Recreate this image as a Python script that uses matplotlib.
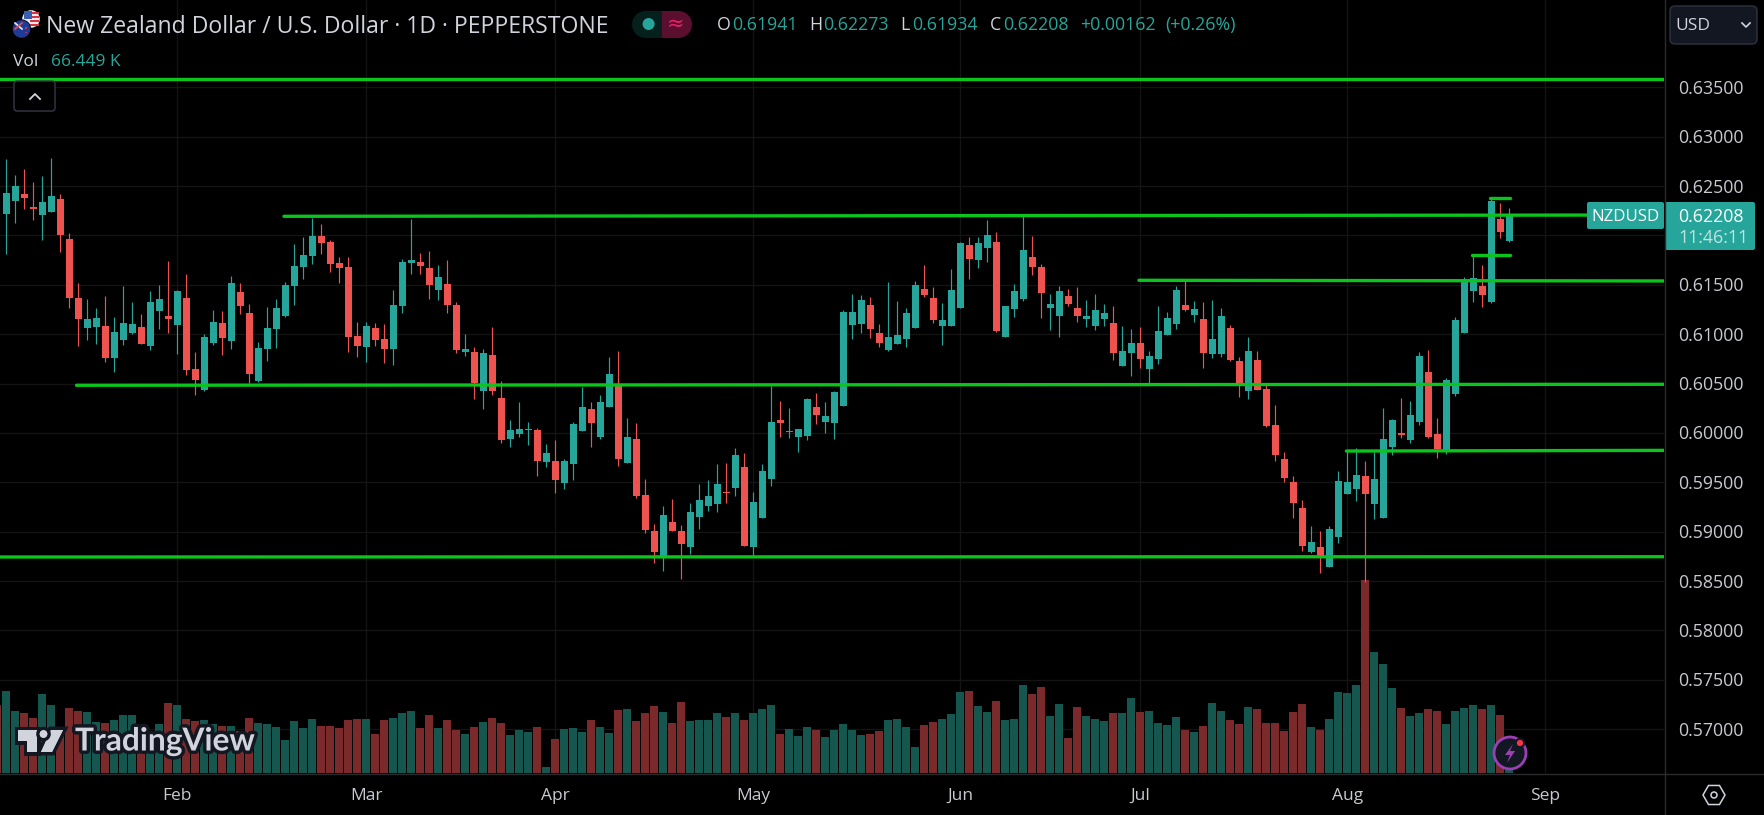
import matplotlib
matplotlib.use('Agg')
import matplotlib.pyplot as plt
import matplotlib.patheffects as pe
from matplotlib.patches import Circle, FancyBboxPatch, Polygon, Rectangle, RegularPolygon, Ellipse
import numpy as np

plt.rcParams['font.family'] = ['Open Sans', 'DejaVu Sans']

# daily NZDUSD candles
opens = [.62214,.62345,.62416,.62284,.62203,.62234,.62365,.61960,.61363,.61059,
         .61069,.61080,.60755,.60938,.61009,.61069,.60877,.61231,.61181,.61090,
         .61363,.60644,.60431,.60907,.61110,.60928,.61424,.61211,.60523,.60847,
         .61049,.61181,.61485,.61677,.61788,.61991,.61930,.61717,.61677,.60978,
         .60867,.61059,.60948,.60847,.61282,.61717,.61727,.61667,.61444,.61505,
         .61296,.60821,.60821,.60426,.60791,.60355,.59940,.59991,.60035,.60031,
         .59707,.59717,.59495,.59687,.60021,.60244,.59960,.60264,.60497,.59697,
         .59940,.59373,.59009,.58745,.59100,.59009,.58847,.59150,.59262,.59282,
         .59403,.59444,.59657,.58847,.59140,.59535,.60133,.60011,.59960,.59971,
         .60264,.60112,.60102,.60272,.61092,.61102,.61295,.61011,.60839,.60900,
         .60950,.61062,.61457,.61366,.61082,.61082,.61264,.61902,.61750,.61872,
         .61933,.60971,.61254,.61355,.61781,.61679,.61264,.61183,.61386,.61264,
         .61153,.61082,.61153,.61112,.60677,.60809,.60910,.60647,.60748,.60991,
         .61102,.61295,.61193,.61153,.60799,.60799,.61062,.60728,.60424,.60738,
         .60448,.60083,.59739,.59506,.59243,.58797,.58848,.58646,.58949,.59385,
         .59435,.59567,.59283,.59142,.59861,.60002,.59931,.60114,.60620,.59992,
         .59830,.60397,.61015,.61440,.61491,.61329,.62169,.61941]
closes = [.62426,.62497,.62376,.62264,.62335,.62396,.62001,.61363,.61150,.61150,
          .61161,.60755,.61019,.61110,.61100,.60897,.61322,.61353,.61150,.61434,
          .60634,.60533,.60968,.61120,.60958,.61515,.61282,.60593,.60857,.61059,
          .61262,.61495,.61687,.61798,.61991,.61920,.61707,.61667,.60968,.60877,
          .61080,.60938,.60847,.61292,.61727,.61748,.61687,.61495,.61576,.61292,
          .60841,.60851,.60507,.60811,.60426,.59930,.60031,.60041,.60041,.59717,
          .59798,.59525,.59717,.60092,.60264,.60102,.60315,.60598,.59738,.59960,
          .59363,.59019,.58796,.59171,.59009,.58877,.59201,.59323,.59363,.59485,
          .59393,.59778,.58857,.59302,.59616,.60112,.60102,.60021,.60041,.60345,
          .60183,.60173,.60416,.61224,.61224,.61345,.61052,.60910,.60971,.60991,
          .61214,.61497,.61396,.61143,.61143,.61447,.61922,.61760,.61922,.62003,
          .61031,.61285,.61436,.61851,.61679,.61416,.61305,.61436,.61305,.61183,
          .61183,.61244,.61214,.60809,.60829,.60910,.60748,.60778,.61031,.61163,
          .61447,.61244,.61254,.60809,.60950,.61183,.60738,.60485,.60829,.60434,
          .60073,.59780,.59547,.59294,.58858,.58899,.58757,.59030,.59516,.59506,
          .59577,.59385,.59537,.59942,.60134,.59982,.60185,.60782,.59962,.59840,
          .60539,.61147,.61541,.61572,.61400,.62351,.62038,.62208]
highs = [.62777,.62608,.62669,.62538,.62598,.62781,.62416,.62021,.61515,.61353,
         .61262,.61383,.61171,.61485,.61322,.61201,.61434,.61495,.61738,.61444,
         .61606,.60816,.60998,.61242,.61231,.61586,.61515,.61302,.60917,.61272,
         .61353,.61525,.61910,.61981,.62180,.62112,.61950,.61778,.61778,.61120,
         .61120,.61110,.61100,.61444,.61758,.62163,.61819,.61839,.61697,.61748,
         .61326,.61003,.60872,.60851,.61074,.60527,.60133,.60315,.60112,.60052,
         .59890,.59930,.59738,.60112,.60467,.60315,.60386,.60770,.60831,.60153,
         .60102,.59535,.59080,.59262,.59333,.59069,.59292,.59485,.59525,.59687,
         .59697,.59849,.59798,.59403,.59687,.60477,.60325,.60254,.60041,.60355,
         .60406,.60315,.60426,.61244,.61406,.61396,.61376,.61102,.61528,.61335,
         .61264,.61538,.61700,.61477,.61315,.61659,.61933,.61983,.61983,.62155,
         .62034,.61285,.61507,.62216,.61993,.61710,.61406,.61487,.61457,.61477,
         .61345,.61406,.61305,.61285,.61082,.61052,.61072,.60829,.61285,.61224,
         .61487,.61538,.61335,.61325,.61345,.61264,.61092,.60768,.60971,.60829,
         .60488,.60286,.59810,.59567,.59324,.59061,.59010,.59061,.59618,.59830,
         .59850,.59719,.59810,.60256,.60144,.60357,.60326,.60822,.60843,.60154,
         .60559,.61177,.61582,.61795,.61703,.62372,.62331,.62273]
lows = [.61809,.62122,.62264,.62153,.61950,.62234,.61829,.61262,.60877,.60938,
        .60897,.60715,.60614,.60887,.60998,.60897,.60836,.61049,.61009,.60796,
        .60583,.60381,.60421,.60887,.60786,.60847,.61201,.60502,.60512,.60725,
        .60857,.61171,.61292,.61555,.61707,.61809,.61626,.61515,.60816,.60766,
        .60715,.60877,.60705,.60685,.61211,.61606,.61606,.61353,.61343,.61211,
        .60811,.60781,.60345,.60244,.60386,.59900,.59859,.59960,.59879,.59566,
        .59657,.59393,.59434,.59525,.60021,.59859,.59940,.60264,.59667,.59697,
        .59343,.58988,.58685,.58604,.59009,.58523,.58776,.59029,.59211,.59201,
        .59292,.59363,.58857,.58755,.59140,.59464,.59960,.59950,.59809,.59930,
        .60092,.60001,.59940,.60272,.60950,.61011,.60961,.60869,.60829,.60900,
        .60869,.61062,.61376,.61112,.60890,.61082,.61264,.61558,.61669,.61730,
        .61021,.60971,.61173,.61335,.61598,.61163,.61041,.60971,.61285,.61122,
        .61072,.61041,.61082,.60738,.60677,.60576,.60657,.60485,.60697,.60991,
        .61052,.61234,.61122,.60657,.60758,.60768,.60728,.60363,.60343,.60434,
        .60063,.59719,.59506,.59142,.58808,.58787,.58585,.58646,.58889,.59385,
        .59314,.58491,.59132,.59142,.59780,.59952,.59901,.60083,.59952,.59749,
        .59790,.60377,.61015,.61329,.61278,.61319,.61977,.61934]

# volume in thousands, first value belongs to the bar cut off at the left edge
volumes = [1513,1823,1380,1336,1225,1756,1513,996,1446,1380,
           1358,1137,1114,1181,1292,1292,1048,937,1092,1557,
           1513,1203,1159,1181,1092,1048,1048,937,1225,1114,
           1092,1026,738,1159,1004,1203,1048,1048,1004,1181,
           1203,1203,871,1181,1225,1336,1380,1004,1292,1004,
           1181,959,871,1026,1137,1225,1114,849,959,915,
           1026,140,760,982,1004,915,1181,1026,893,1402,
           1424,1159,1336,1491,1358,1114,1579,1159,1181,1181,
           1336,1247,1336,1181,1336,1424,1513,871,982,827,
           1026,959,804,959,1092,959,849,871,937,1181,
           1203,1026,583,1070,1137,1203,1314,1801,1823,1491,
           1358,1601,1181,1203,1956,1756,1911,1269,1535,782,
           1469,1269,1203,1159,1336,1336,1668,1358,1380,1114,
           1070,1247,959,915,1048,1557,1380,1181,1092,1469,
           1424,1114,1114,937,1358,1535,1026,959,1203,1801,
           1779,1956,4280,2686,2421,1889,1446,1269,1336,1424,
           1380,1092,1380,1446,1513,1424,1513,1292,66.449]
vol_first_up = False  # colour of the cut off bar

# hand drawn horizontal levels: bar index from/to, price from/to
level_x0 = [-1, 30.85, 125.85, 7.8, 148.9, -1, 162.9, 164.9]
level_x1 = [185, 185, 185, 185, 185, 185, 167.1, 167.1]
level_p0 = [.63584, .62194, .61546, .60483, .59817, .58744, .61802, .62376]
level_p1 = [.63584, .62207, .61539, .60493, .59824, .58747, .61802, .62376]

price_ticks = [.57, .575, .58, .585, .59, .595, .60, .605, .61, .615, .62, .625, .63, .635]
month_names = ['Feb', 'Mar', 'Apr', 'May', 'Jun', 'Jul', 'Aug', 'Sep']
month_bars = [19, 40, 61, 83, 106, 126, 149, 171]

UP = '#26a69a'
DOWN = '#ef5350'
VOL_UP = '#15574f'
VOL_DOWN = '#7a2a2a'
GRID = '#141414'
TXT = '#d1d4dc'
LINE = '#0bc41c'
BORDER = '#2a2b2f'

W, H = 1764, 815
PANE_W, PANE_H = 1664, 773
fig = plt.figure(figsize=(W / 100, H / 100), dpi=100, facecolor='black')
ax = fig.add_axes([0, (H - PANE_H) / H, PANE_W / W, PANE_H / H], facecolor='black')

# one bar is 9 px wide, first candle centred at x=6.33 px
ax.set_xlim(-6.33 / 9, (PANE_W - 6.33) / 9)
ax.set_ylim(.56557, .64384)
ax.set_xticks([])
ax.set_yticks([])
for s in ax.spines.values():
    s.set_visible(False)

for p in price_ticks:
    ax.axhline(p, color=GRID, lw=1.0, zorder=0)
for m in month_bars:
    ax.axvline(m, color=GRID, lw=1.0, zorder=0)

# volume pane sits on a twin axis
vax = ax.twinx()
vax.set_ylim(0, PANE_H * 22.14)
vax.set_yticks([])
vax.set_zorder(1)
for s in vax.spines.values():
    s.set_visible(False)
vol_x = np.arange(-1, len(opens))
o = np.array(opens)
c = np.array(closes)
hi = np.array(highs)
lo = np.array(lows)
up = c >= o
vol_up = np.concatenate([[vol_first_up], up])
vax.bar(vol_x, volumes, width=0.87, color=[VOL_UP if u else VOL_DOWN for u in vol_up], lw=0)

# price on top of volume
pax = vax.twinx()
pax.set_ylim(ax.get_ylim())
pax.set_yticks([])
pax.set_zorder(2)
for s in pax.spines.values():
    s.set_visible(False)
x = np.arange(len(opens))
colors = [UP if u else DOWN for u in up]
pax.vlines(x, lo, hi, colors=colors, lw=0.85, zorder=2)
body = np.maximum(np.abs(c - o), .00009)
pax.bar(x, body, bottom=np.minimum(o, c), width=7 / 9, color=colors, lw=0, zorder=3)

for x0, x1, p0, p1 in zip(level_x0, level_x1, level_p0, level_p1):
    pax.plot([x0, x1], [p0, p1], color=LINE, lw=2.4, solid_capstyle='round', zorder=4)

# everything around the chart is placed in screen pixels
ui = fig.add_axes([0, 0, 1, 1], facecolor='none', zorder=5)
ui.set_xlim(0, W)
ui.set_ylim(H, 0)
ui.axis('off')


def label(px, py, s, size=12.5, color=TXT, **kw):
    kw.setdefault('va', 'center')
    return ui.text(px, py, s, fontsize=size, color=color, **kw)


# axis borders
ui.plot([1664.5, 1664.5], [0, H], color=BORDER, lw=1)
ui.plot([0, W], [773.5, 773.5], color=BORDER, lw=1)
ui.add_patch(Rectangle((1665, 0), W - 1665, H, fc='black', ec='none', zorder=0))
ui.add_patch(Rectangle((0, 774), W, H - 774, fc='black', ec='none', zorder=0))

# price scale
for p in price_ticks:
    if p == .62:
        continue
    py = 87.3 + (.635 - p) / .005 * 49.38
    label(1678, py + 1.5, f'{p:.5f}', size=12.8, color='#c8cad0')
for name, m in zip(month_names, month_bars):
    label(6.33 + 9 * m, 796, name, size=12.5, ha='center', color='#c8cad0')

# header
label(46, 27, 'New Zealand Dollar / U.S. Dollar · 1D · PEPPERSTONE', size=16.6)
label(13, 62, 'Vol', size=12.5)
label(51, 62, '66.449 K', size=12.5, color=UP)
ohlc_x = [716.8, 732, 809.4, 822.8, 900.5, 912, 989.6, 1002.7]
ohlc_t = ['O', '0.61941', 'H', '0.62273', 'L', '0.61934', 'C', '0.62208']
for i, (px, s) in enumerate(zip(ohlc_x, ohlc_t)):
    label(px, 25, s, size=12.8, color=UP if i % 2 else TXT)
label(1080, 25, '+0.00162', size=12.8, color=UP)
label(1165.7, 25, '(+0.26%)', size=12.8, color=UP)

# flags
ui.add_patch(Circle((31, 19), 8.8, fc='#e9e9ee', ec='none'))
for sy in (12, 16, 20, 24):
    ui.add_patch(Rectangle((30, sy), 9, 2, fc='#d8343f', ec='none'))
ui.add_patch(Rectangle((24, 11), 8, 8, fc='#3b5fb0', ec='none'))
ui.add_patch(Circle((21.5, 29), 9.6, fc='black', ec='none'))
ui.add_patch(Circle((21.5, 29), 8.8, fc='#1e3c96', ec='none'))
ui.plot([15, 22], [23, 29], color='#e9e9ee', lw=1.2)
ui.plot([22, 15], [23, 29], color='#e05050', lw=1.2)
ui.plot([26, 26], [27, 33], color='#d8343f', lw=1.4, ls=':')

# market status pill
ui.add_patch(FancyBboxPatch((645, 11), 47 - 13, 27, boxstyle='round,pad=0,rounding_size=0', fc='#5a0f2f', ec='none'))
ui.add_patch(Circle((678.5, 24.5), 13.5, fc='#5a0f2f', ec='none'))
ui.add_patch(Circle((645.5, 24.5), 13.5, fc='#06201e', ec='none'))
ui.add_patch(Rectangle((645.5, 11), 16.5, 27, fc='#06201e', ec='none'))
ui.add_patch(Ellipse((648.6, 24), 12, 12, fc=UP, ec='none'))
label(676, 23.5, '≈', size=15, color='#e91e63', ha='center', family='DejaVu Sans')

# collapse button
ui.add_patch(FancyBboxPatch((14, 81), 41, 30, boxstyle='round,pad=0,rounding_size=3', fc='black', ec='#363a45', lw=1))
ui.plot([30, 35, 40], [99, 94, 99], color=TXT, lw=1.3)

# currency button
ui.add_patch(FancyBboxPatch((1670, 6), 87, 38, boxstyle='round,pad=0,rounding_size=5', fc='#131722', ec='#2f3340', lw=1))
label(1675, 26, 'USD', size=12.5)
ui.plot([1742, 1746, 1750], [23, 27, 23], color=TXT, lw=1.2)

# last price tags
ui.add_patch(FancyBboxPatch((1587, 202), 77, 27, boxstyle='round,pad=0,rounding_size=2', fc=UP, ec='none'))
ui.add_patch(FancyBboxPatch((1665, 202), 90, 48, boxstyle='round,pad=0,rounding_size=2', fc=UP, ec='none'))
label(1625.5, 217, 'NZDUSD', size=12.2, color='white', ha='center')
label(1678, 217, '0.62208', size=12.8, color='white')
label(1678, 238, '11:46:11', size=12.8, color='#bfe4e0')

# settings hexagon
ui.add_patch(RegularPolygon((1714, 795), 6, radius=11, orientation=np.pi / 2, fc='none', ec=TXT, lw=1.1))
ui.add_patch(Circle((1714, 795), 3, fc='none', ec=TXT, lw=1.1))

# TradingView mark
outline = [pe.withStroke(linewidth=5, foreground='#131722')]
for pts in ([(17.5, 730), (37, 730), (37, 752), (27, 752), (27, 741), (17.5, 741)],
            [(51, 730), (63, 730), (52, 752), (41, 752)]):
    ui.add_patch(Polygon(pts, closed=True, fc=TXT, ec='none', path_effects=outline + [pe.Normal()]))
ui.add_patch(Circle((43.5, 734), 3.8, fc=TXT, ec='none', path_effects=outline + [pe.Normal()]))
label(75, 741, 'TradingView', size=22.8, fontweight='bold', path_effects=outline, family='Lato')

# lightning badge
ui.add_patch(Circle((1510, 753), 16, fc='#131722', ec='#9c3fb5', lw=2))
ui.add_patch(Polygon([(1513, 744), (1505, 755), (1510, 755), (1507, 763), (1515, 751), (1510, 751)],
                     closed=True, fc='#9c3fb5', ec='none'))
ui.add_patch(Circle((1520, 743), 4.2, fc='#f23645', ec='#131722', lw=1.5))

fig.savefig('out.png', dpi=100, facecolor='black')
